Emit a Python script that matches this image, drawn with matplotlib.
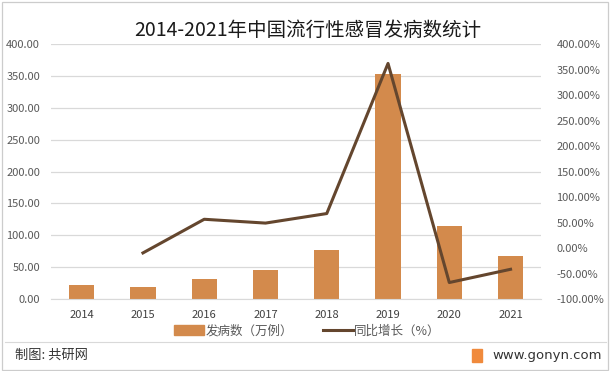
import matplotlib.pyplot as plt
from matplotlib.lines import Line2D
from matplotlib.patches import Patch, Rectangle
from matplotlib.ticker import FuncFormatter, MultipleLocator

plt.rcParams["font.family"] = ["Noto Sans CJK SC", "DejaVu Sans"]

years = ["2014", "2015", "2016", "2017", "2018", "2019", "2020", "2021"]
cases = [21.66, 19.59, 30.65, 45.66, 76.56, 353.82, 114.50, 66.80]  # 万例
growth_years = years[1:]
growth = [-9.56, 56.46, 48.97, 67.68, 362.14, -67.64, -41.66]  # %

BAR = "#D38A4C"
LINE = "#64462E"
TEXT = "#595959"
GRID = "#D9D9D9"

fig = plt.figure(figsize=(6.15, 3.71), dpi=100)
ax = fig.add_axes([0.083, 0.194, 0.797, 0.687])
ax2 = ax.twinx()

x = list(range(len(years)))
ax.bar(x, cases, width=0.41, color=BAR, zorder=2)
gx = [years.index(y) for y in growth_years]
ax2.plot(gx, growth, color=LINE, lw=2.2, zorder=3)

ax.set_ylim(0, 400)
ax.yaxis.set_major_locator(MultipleLocator(50))
ax.yaxis.set_major_formatter(FuncFormatter(lambda v, p: f"{v:.2f}"))
ax2.set_ylim(-100, 400)
ax2.yaxis.set_major_locator(MultipleLocator(50))
ax2.yaxis.set_major_formatter(FuncFormatter(lambda v, p: f"{v:.2f}%"))
ax.set_xlim(-0.5, len(years) - 0.5)
ax.set_xticks(x)
ax.set_xticklabels(years)

ax.grid(axis="y", color=GRID, lw=0.9, zorder=0)
ax.set_axisbelow(True)
for a in (ax, ax2):
    for s in a.spines.values():
        s.set_visible(False)
    a.tick_params(length=0, labelsize=8, colors=TEXT)
ax.spines["bottom"].set_visible(True)
ax.spines["bottom"].set_color(GRID)
ax.tick_params(axis="y", pad=8)
ax.tick_params(axis="x", pad=8)
ax2.tick_params(axis="y", pad=11)
for lbl in ax.get_xticklabels():
    lbl.set_color("#404040")

fig.text(0.5, 0.918, "2014-2021年中国流行性感冒发病数统计", ha="center", va="center",
         fontsize=14, color="#1a1a1a")

handles = [Patch(color=BAR), Line2D([0], [0], color=LINE, lw=2.2)]
fig.legend(handles, ["发病数（万例）", "同比增长（%）"], loc="center",
           bbox_to_anchor=(0.5, 0.108), ncol=2, frameon=False, fontsize=9,
           handlelength=2.4, handleheight=0.9, columnspacing=2.4, handletextpad=0.1,
           labelcolor=TEXT)

# footer
fig.add_artist(Line2D([0.008, 0.985], [0.078, 0.078], color=GRID, lw=0.8,
                      transform=fig.transFigure))
fig.text(0.024, 0.042, "制图: 共研网", ha="left", va="center", fontsize=9.5, color="#333333")
fig.text(0.978, 0.042, "www.gonyn.com", ha="right", va="center", fontsize=9.5,
         color="#333333", family="DejaVu Sans")
fig.add_artist(Rectangle((0.768, 0.025), 0.016, 0.035, color="#F08A3C",
                         transform=fig.transFigure))
fig.add_artist(Rectangle((0.003, 0.004), 0.985, 0.99, fill=False, ec="#CCCCCC", lw=0.9,
                         transform=fig.transFigure))

fig.savefig("out.png", dpi=100)
